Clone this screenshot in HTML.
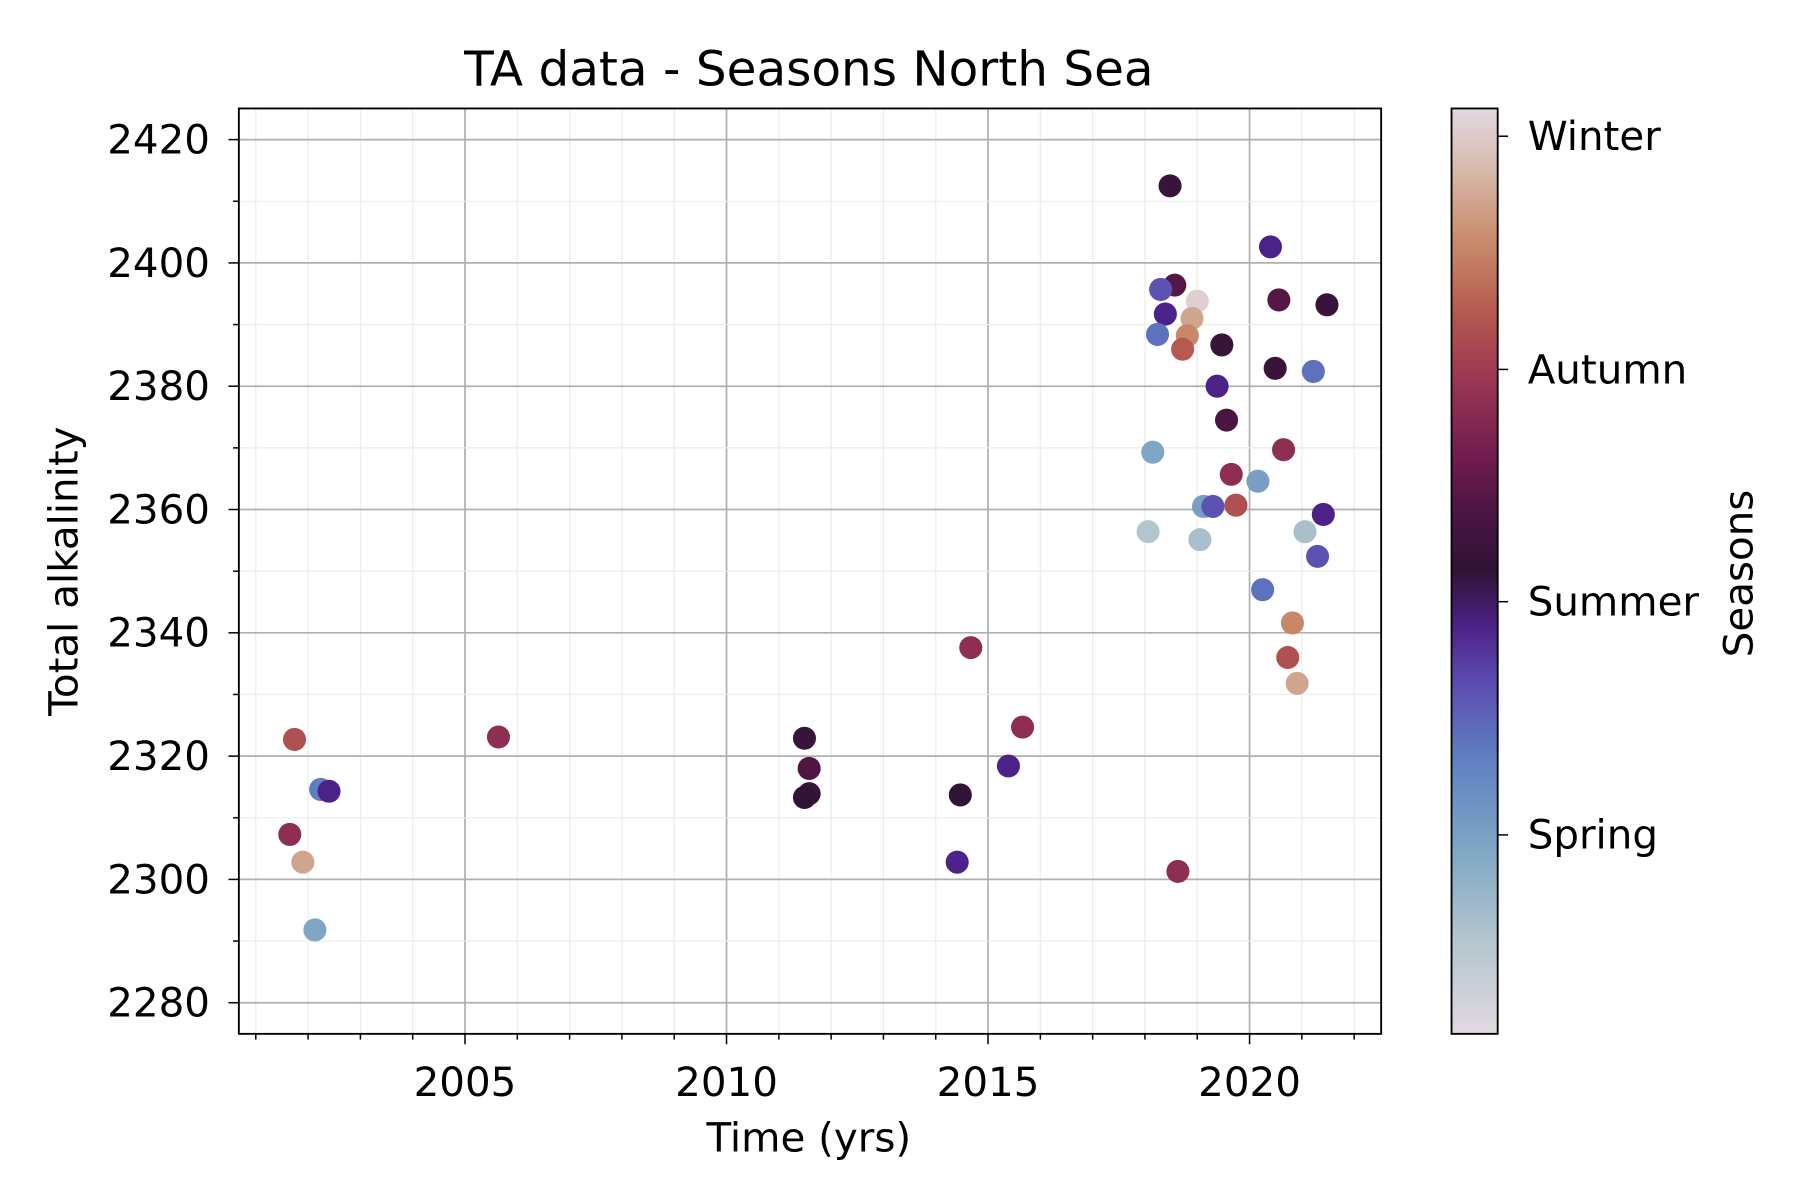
<!DOCTYPE html>
<html><head><meta charset="utf-8"><style>html,body{margin:0;padding:0;background:#fff}svg{display:block}text{font-family:"DejaVu Sans","Liberation Sans",sans-serif;fill:#000}</style></head>
<body>
<svg id="chart" width="1800" height="1200" viewBox="0 0 1560 1040" xmlns="http://www.w3.org/2000/svg">
<defs><linearGradient id="cbg" x1="0" y1="1" x2="0" y2="0">
<stop offset="0" stop-color="#e2d9e2"/><stop offset="0.1" stop-color="#b3c6ce"/><stop offset="0.2" stop-color="#7fa6c5"/><stop offset="0.3" stop-color="#5f7ec1"/><stop offset="0.38" stop-color="#5b4cb0"/><stop offset="0.44" stop-color="#4d2288"/><stop offset="0.5" stop-color="#2f1436"/><stop offset="0.56" stop-color="#4a1541"/><stop offset="0.62" stop-color="#6f1b4f"/><stop offset="0.7" stop-color="#983453"/><stop offset="0.78" stop-color="#b65a4f"/><stop offset="0.86" stop-color="#c98d6d"/><stop offset="0.93" stop-color="#d6b7a7"/><stop offset="1" stop-color="#e2d9e2"/></linearGradient></defs>
<g id="grid"></g>
<g id="points"></g>
<rect x="207" y="94" width="990" height="802" fill="none" stroke="#000" stroke-width="1.6"/>
<g id="axes"></g>
<text x="701" y="74" font-size="42" text-anchor="middle">TA data - Seasons North Sea</text>
<text x="701" y="998" font-size="35" text-anchor="middle">Time (yrs)</text>
<text transform="translate(67,495) rotate(-90)" font-size="35" text-anchor="middle">Total alkalinity</text>
<rect x="1258" y="94" width="40" height="802" fill="url(#cbg)" stroke="#000" stroke-width="1.6"/>
<g id="cbticks"></g>
<text transform="translate(1519,497) rotate(-90)" font-size="35" text-anchor="middle">Seasons</text>
</svg>
<script>
const years=[2001.74,2001.65,2001.9,2002.13,2002.24,2002.4,2005.64,2011.49,2011.58,2011.58,2011.49,2014.47,2014.41,2014.67,2015.39,2015.66,2018.48,2018.57,2018.3,2018.39,2018.24,2019.0,2018.9,2018.81,2018.72,2018.15,2018.06,2019.47,2019.38,2019.56,2019.65,2019.12,2019.3,2019.74,2019.05,2020.4,2020.56,2020.49,2021.48,2021.22,2020.65,2020.16,2021.41,2021.06,2021.3,2020.25,2020.82,2020.73,2020.91,2018.63];
const alk=[2322.7,2307.3,2302.8,2291.8,2314.6,2314.3,2323.1,2322.9,2318.0,2313.9,2313.3,2313.7,2302.8,2337.6,2318.4,2324.7,2412.5,2396.4,2395.7,2391.7,2388.4,2393.8,2391.0,2388.2,2386.0,2369.3,2356.4,2386.7,2380.0,2374.5,2365.7,2360.5,2360.5,2360.7,2355.1,2402.6,2394.0,2382.9,2393.2,2382.4,2369.7,2364.6,2359.2,2356.4,2352.4,2347.0,2341.6,2336.0,2331.8,2301.3];
const season=[0.76,0.68,0.9,0.2,0.3,0.44,0.68,0.52,0.57,0.52,0.5,0.5,0.44,0.68,0.44,0.68,0.52,0.58,0.37,0.44,0.32,0.98,0.9,0.85,0.78,0.2,0.1,0.52,0.44,0.56,0.68,0.22,0.37,0.76,0.12,0.44,0.58,0.52,0.52,0.32,0.68,0.22,0.44,0.12,0.37,0.32,0.85,0.76,0.9,0.68];
const xTicks=[2005,2010,2015,2020];
const yTicks=[2280,2300,2320,2340,2360,2380,2400,2420];
const cbLabels=["Spring","Summer","Autumn","Winter"];
const cbPos=[0.215,0.467,0.718,0.97];
const NS="http://www.w3.org/2000/svg";
const X=v=>403+(v-2005)*45.33, Y=v=>121+(2420-v)*5.343;
const stops=[[0,[226,217,226]],[0.1,[179,198,206]],[0.2,[127,166,197]],[0.3,[95,126,193]],[0.38,[91,76,176]],[0.44,[77,34,136]],[0.5,[47,20,54]],[0.56,[74,21,65]],[0.62,[111,27,79]],[0.7,[152,52,83]],[0.78,[182,90,79]],[0.86,[201,141,109]],[0.93,[214,183,167]],[1,[226,217,226]]];
function cmap(t){for(let i=1;i<stops.length;i++){if(t<=stops[i][0]){const a=stops[i-1],b=stops[i],f=(t-a[0])/(b[0]-a[0]);return 'rgb('+a[1].map((c,k)=>Math.round(c+(b[1][k]-c)*f)).join(',')+')';}}return 'rgb(226,217,226)';}
function mk(tag,at,parent){const e=document.createElementNS(NS,tag);for(const k in at)e.setAttribute(k,at[k]);parent.appendChild(e);return e;}
const grid=document.getElementById('grid'),axes=document.getElementById('axes'),pts=document.getElementById('points'),cbt=document.getElementById('cbticks');
for(let yr=2001;yr<=2022;yr++){const x=X(yr);const major=xTicks.includes(yr);
const l=mk('line',{x1:x,x2:x,y1:94,y2:896,stroke:major?'#b0b0b0':'#ebebeb','stroke-width':major?1.5:1},grid);


const t=mk('line',{x1:x,x2:x,y1:896,y2:major?905:901,stroke:'#000','stroke-width':1.3},axes);

}
for(let v=2280;v<=2420;v+=10){const y=Y(v);const major=yTicks.includes(v);
const l=mk('line',{x1:207,x2:1197,y1:y,y2:y,stroke:major?'#b0b0b0':'#ebebeb','stroke-width':major?1.5:1},grid);


const t=mk('line',{x1:major?198:202,x2:207,y1:y,y2:y,stroke:'#000','stroke-width':1.3},axes);

}
xTicks.forEach(v=>{const t=mk('text',{x:X(v),y:950,'font-size':35,'text-anchor':'middle'},axes);t.textContent=v;

});
yTicks.forEach(v=>{const t=mk('text',{x:182,y:Y(v)+12,'font-size':35,'text-anchor':'end'},axes);t.textContent=v;

});
years.forEach((yr,i)=>{const c=mk('circle',{cx:X(yr),cy:Y(alk[i]),r:10,fill:cmap(season[i])},pts);

});
cbLabels.forEach((s,i)=>{const y=896-cbPos[i]*802;
const l=mk('line',{x1:1298,x2:1307,y1:y,y2:y,stroke:'#000','stroke-width':1.3},cbt);


const t=mk('text',{x:1324,y:y+12,'font-size':35},cbt);t.textContent=s;

});
</script>
</body></html>
